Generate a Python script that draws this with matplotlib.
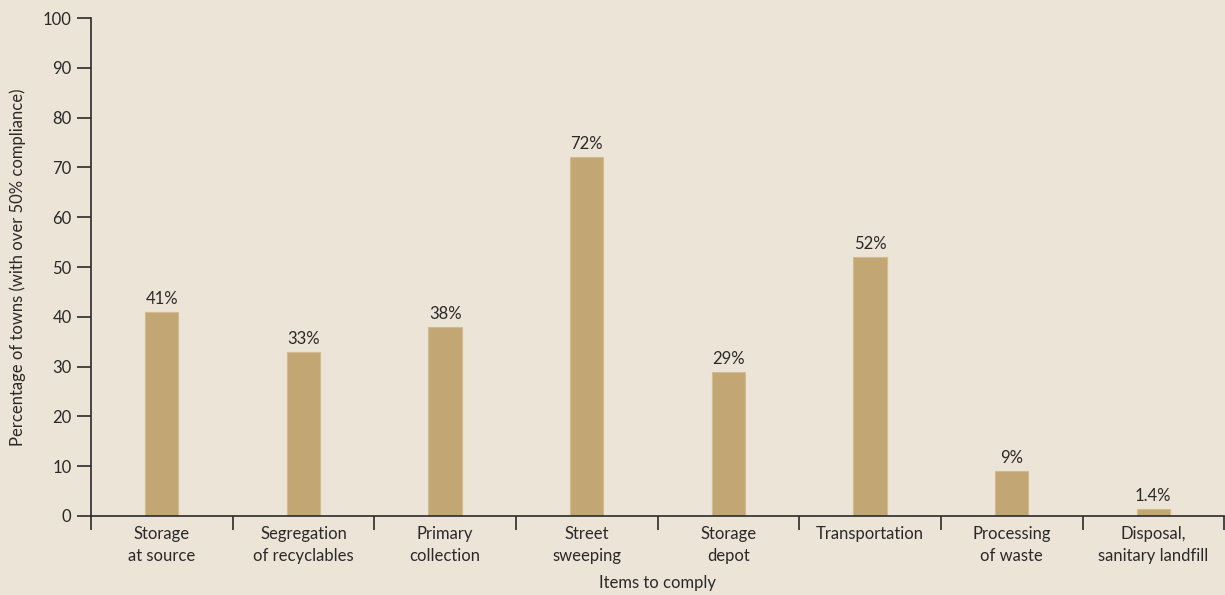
import matplotlib.pyplot as plt
import numpy as np

categories = ["Storage\nat source", "Segregation\nof recyclables", "Primary\ncollection",
              "Street\nsweeping", "Storage\ndepot", "Transportation",
              "Processing\nof waste", "Disposal,\nsanitary landfill"]
values = [41, 33, 38, 72, 29, 52, 9, 1.4]
value_labels = ["41%", "33%", "38%", "72%", "29%", "52%", "9%", "1.4%"]

bg = "#ece4d6"
bar_color = "#c2a674"
text_color = "#2a2a2a"

plt.rcParams['font.family'] = ['Lato', 'DejaVu Sans']

fig = plt.figure(figsize=(12.25, 5.95), dpi=100, facecolor=bg)
ax = fig.add_axes([0.0743, 0.1328, 0.925, 0.8369], facecolor=bg)

x = np.arange(len(categories))
ax.bar(x, values, width=0.235, color=bar_color, edgecolor="#d2bb8e", linewidth=0.8, zorder=2)

for xi, v, lab in zip(x, values, value_labels):
    ax.text(xi, v + 1.0, lab, ha="center", va="bottom", fontsize=12, color=text_color)

ax.set_xlim(-0.5, len(categories) - 0.5)
ax.set_ylim(0, 100)
ax.set_yticks(range(0, 101, 10))
ax.set_xticks(x)
ax.set_xticklabels(categories, fontsize=12, color=text_color, linespacing=1.45)
ax.set_xticks(np.arange(-0.5, len(categories), 1.0), minor=True)
ax.tick_params(axis="x", which="major", length=0, pad=7)
ax.tick_params(axis="x", which="minor", length=10, width=1.2, color=text_color, direction="out")
ax.tick_params(axis="y", length=10, width=1.2, color=text_color, labelsize=12,
               labelcolor=text_color, pad=4)

for side in ["top", "right"]:
    ax.spines[side].set_visible(False)
for side in ["left", "bottom"]:
    ax.spines[side].set_linewidth(1.2)
    ax.spines[side].set_color(text_color)

ax.set_xlabel("Items to comply", fontsize=12, color=text_color, labelpad=8)
ax.set_ylabel("Percentage of towns (with over 50% compliance)", fontsize=12,
              color=text_color, labelpad=12)

fig.savefig("out.png", dpi=100, facecolor=bg)
